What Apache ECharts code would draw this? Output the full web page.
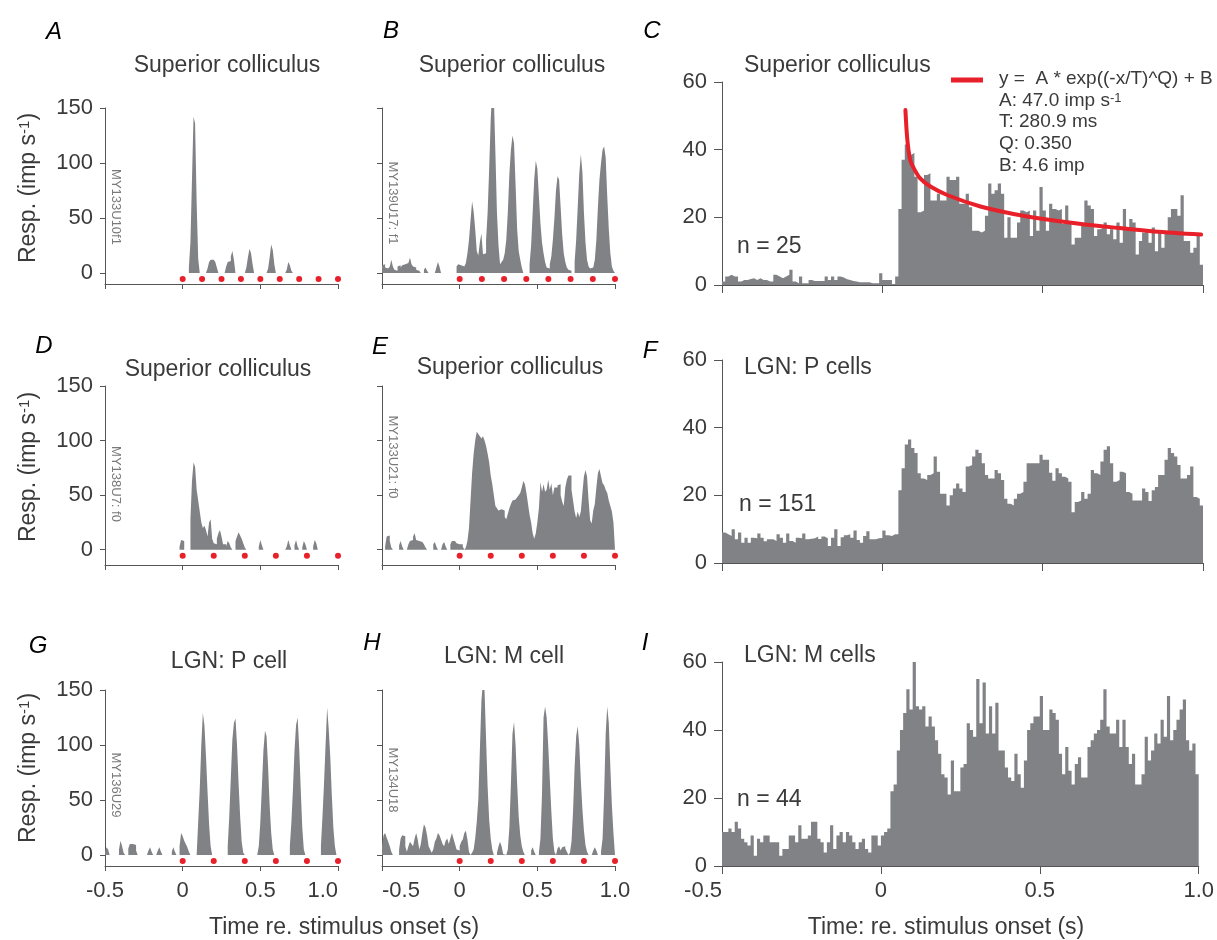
<!DOCTYPE html>
<html>
<head>
<meta charset="utf-8">
<title>PSTH panels</title>
<script src="https://cdn.jsdelivr.net/npm/echarts@6/dist/echarts.min.js"></script>
<style>
html, body { margin: 0; padding: 0; background: #fff; }
#main { width: 1217px; height: 940px; }
</style>
</head>
<body>
<div id="main"></div>
<script>
// 10 ms bins from -0.5 s to 1.0 s (150 bins), values in imp/s
var respA = [
  0,0,0,0,0,0,0,0,0,0, 0,0,0,0,0,0,0,0,0,0, 0,0,0,0,0,0,0,0,0,0,
  0,0,0,0,0,0,0,0,0,0, 0,0,0,0,0,0,0,0,0,0,
  0,0,0,0,5,28,85,142,136,64, 13,0,0,0,0,0,4,10,12,12,
  11,10,5,0,0,0,0,0,6,10, 11,15,20,12,0,0,0,0,0,0,
  0,5,14,22,18,8,0,0,0,0, 0,0,0,0,0,4,14,26,21,8,
  0,0,0,0,0,0,0,3,10,7, 2,0,0,0,0,0,0,0,0,0,
  0,0,0,0,0,0,0,0,0,0, 0,0,0,0,0,0,0,0,0,0
];
var respB = [
  7,8,5,4,5,6,12,6,3,2, 6,7,5,7,8,7,9,10,14,8, 6,5,3,2,1,0,0,3,5,2,
  0,0,0,0,0,5,10,6,0,0, 0,0,0,0,0,0,0,0,6,8,
  7,8,6,5,9,18,30,48,65,56, 40,20,16,28,36,17,18,30,55,95,
  140,168,160,110,55,25,8,10,12,18, 30,55,90,112,125,118,80,40,20,12,
  5,0,0,0,0,8,25,55,85,102, 95,70,45,28,18,10,5,4,8,15,
  30,50,75,88,85,60,35,18,10,5, 3,2,0,0,10,30,60,90,108,92,
  55,28,12,6,4,5,6,12,30,60, 85,100,112,115,105,70,40,18,6,2
];
var respC = [
  1,2.5,3,2.5,2.5,1,1.5,1.5,1.8,2, 1.5,2,1.5,1.5,1,1,3,2.5,2,2.5,
  3,4.5,1,0.5,2.5,0.5,0.5,1.5,1.2,1.2, 1.2,1.2,2.5,1.5,2.5,1.5,2.5,2.2,1.7,1.5,
  1.2,1,0.8,0.8,0.8,0.8,0.5,0.5,0.5,3.5, 1.5,1.5,1.5,0.3,2.5,22.5,37,41.5,38.5,39,
  32,21.5,22,32.5,33,25,25,27,25,25, 32,31,31,32,24,24,27,23,16,16,
  15.5,16,20.5,30,27,28,30,27,14,20, 14,14,18.5,22,21.5,22,14.5,22,16,29,
  22,16,24,22.5,22,22.5,18,23.5,18,12, 14,14,18,25,23.5,22.5,14.5,16.5,17,18.5,
  15,16.5,13.5,18.5,12.5,22.5,16.5,19.5,18.5,9, 13,15.5,16.5,12.5,17,10,16,11,16,20,
  22.5,22.5,20.5,26.5,13,13,9.5,11,15,6
];
var respD = [
  0,0,0,0,0,0,0,0,0,0, 0,0,0,0,0,0,0,0,0,0, 0,0,0,0,0,0,0,0,0,0,
  0,0,0,0,0,0,0,0,0,0, 0,0,0,0,0,0,0,0,3,9,
  8,0,0,0,0,28,63,80,76,55, 45,35,25,20,22,18,12,25,28,10,
  6,5,10,15,18,12,5,5,3,8, 6,2,0,0,8,12,16,13,10,6,
  2,0,0,0,0,0,0,0,0,3, 9,4,0,0,0,0,0,0,0,0,
  0,0,0,0,0,0,0,3,9,4, 0,0,4,9,3,0,0,2,8,5,
  0,0,0,0,3,9,6,0,0,0, 0,0,0,0,0,0,0,0,0,0
];
var respE = [
  0,0,3,12,13,8,2,0,0,0, 0,4,8,3,0,0,0,5,8,9, 12,15,9,8,7,7,6,5,2,0,
  0,0,0,5,7,3,0,0,0,5, 7,3,0,0,5,8,8,7,6,5,
  6,5,3,0,2,8,20,45,70,88, 100,108,106,104,102,104,100,95,88,80,
  68,60,50,40,38,36,37,37,36,30, 28,33,38,42,45,46,47,48,50,52,
  57,63,60,52,42,32,25,15,10,15, 25,38,62,53,60,53,55,64,55,61,
  50,57,57,59,60,50,44,40,57,64, 68,68,55,45,35,29,35,30,35,52,
  67,73,67,45,27,24,36,42,57,70, 74,67,61,59,55,52,45,40,35,25
];
var respF = [
  9,8.5,8,10,7,9,6,7.5,6,7.5, 7.3,8.7,7.5,6.4,7,7,6.5,8.5,7.5,6,
  8.7,6.5,6,7.5,7.3,8.7,7,7.2,7.3,7.8, 7.1,7.8,7.3,5,7.5,10,5,7.6,8.2,8.5,
  7.5,9.6,6.8,6,8,9.4,7,7,7.3,7.4, 9.6,8.2,8,8.5,8.5,21.5,28,35,36.5,34,
  32.5,26.5,25,24.5,26,26.5,31.5,27,20.5,20.5, 17,20,22,23.5,22,21,28.5,29,31.5,33.5,
  32.5,29.5,26,25,25,27.5,26.5,24.5,19,17.5, 17,19,20.5,21,24,29.5,29.5,29.5,29.5,32,
  30.5,30.5,26.7,24.3,28,26.5,25.5,25,24,15, 18,18.5,21,19,20.5,27.5,26.5,26,30,33.5,
  34.5,29.5,24,24.5,27,26.5,21,20.5,18.5,18.5, 18.5,22,21,18.3,21.5,22.5,26,26,30.5,34,
  32.5,31.5,29,25,25,26,28.5,19.5,19,17
];
var respG = [
  3,7,5,0,0,0,0,0,0,5, 13,8,2,0,0,6,10,10,10,9, 4,0,0,0,0,0,0,0,4,7,
  3,0,0,0,4,7,3,0,0,0, 0,0,0,3,7,3,0,0,8,20,
  17,13,10,7,3,0,0,0,0,0, 30,60,100,129,118,90,58,28,8,0,
  0,0,0,0,0,0,0,0,0,8, 35,70,105,120,124,100,65,35,12,2,
  0,0,0,0,0,0,0,0,0,8, 30,62,95,113,108,80,45,20,5,0,
  0,0,0,0,0,0,0,0,0,8, 30,60,95,118,125,98,60,25,5,0,
  0,0,0,0,0,0,0,0,0,8, 35,65,100,134,115,90,55,25,8,0
];
var respH = [
  8,18,20,16,12,8,3,0,0,0, 0,5,15,18,17,8,3,8,12,10, 8,15,20,14,5,10,20,28,25,18,
  8,5,2,5,12,15,20,18,14,10, 8,13,15,10,15,20,15,10,5,4,
  8,12,14,20,22,14,3,0,2,5, 15,30,50,95,140,158,150,105,62,32,
  15,5,0,0,2,8,12,8,1,0, 0,5,25,65,110,121,100,65,35,18,
  8,3,0,0,0,0,4,7,3,0, 0,2,15,55,125,135,125,100,70,40,
  15,3,0,6,8,4,7,8,6,3, 0,2,12,40,80,108,117,100,68,42,
  22,9,3,0,0,0,4,7,4,0, 0,3,15,55,110,135,120,80,45,20
];
var respI = [
  10,10,11,10,13,11,8,7,6,9, 3,8,7,9,9,7,7,7,3,5, 5,9,9,7,12,8,8,9,13,13,
  8,7,4,7,12,5,9,10,7,10, 9,7,5,7,8,5,4,9,9,6,
  9,10,11,22,24,34,40,45,52,46, 60,47,46,47,41,44,41,37,33,27,
  26,21,31,22,22,29,30,42,40,38, 55,42,54,39,47,39,48,34,34,29,
  26,25,33,27,23,31,40,42,44,44, 50,40,40,46,45,43,33,27,35,28,
  24,30,32,26,26,35,37,39,40,43, 52,41,39,39,43,35,43,35,30,33,
  24,24,27,38,31,34,39,36,43,38, 50,37,40,43,46,49,37,34,36,27
];

// stimulus times (red dots), s
var dotsA = [0, 0.125, 0.25, 0.375, 0.5, 0.625, 0.75, 0.875, 1.0];
var dotsB = [0, 0.143, 0.286, 0.429, 0.571, 0.714, 0.857, 1.0];
var dots5 = [0, 0.2, 0.4, 0.6, 0.8, 1.0];

// fitted curve in C
var fitT = [0.072, 0.078, 0.087, 0.098, 0.118, 0.150, 0.202, 0.306, 0.409, 0.497, 0.614, 0.731, 0.848, 0.994];
var fitY = [51.7, 42.9, 36.9, 34.5, 31.5, 29.1, 26.6, 23.2, 21.0, 19.6, 18.1, 16.9, 15.8, 14.9];

var binStart = -0.5, binSize = 0.01;
var yTicksCell = [0, 50, 100, 150];

var FONT = "'Liberation Sans', Arial, Helvetica, sans-serif";
var BAR = '#808285';
var RED = '#e8202a';
var AXIS = '#555';
var TXT = '#3a3a3a';

// histogram as a stepped outline: each bin holds its value up to the next edge
function steps(vals) {
    var pts = vals.map(function (v, i) {
        return [Math.round((binStart + i * binSize) * 1000) / 1000, v];
    });
    pts.push([Math.round((binStart + vals.length * binSize) * 1000) / 1000, vals[vals.length - 1]]);
    return pts;
}

// panel layout: left, top, width, height
var panels = [
    {data: respA, box: [105, 108, 233, 176], ymin: -10, col: 1, row: 0, dots: dotsA},
    {data: respB, box: [382, 108, 233, 176], ymin: -10, col: 2, row: 0, dots: dotsB},
    {data: respC, box: [722, 82, 481, 203], ymin: 0, col: 3, row: 0},
    {data: respD, box: [105, 386, 233, 179], ymin: -14, col: 1, row: 1, dots: dots5},
    {data: respE, box: [382, 386, 233, 179], ymin: -14, col: 2, row: 1, dots: dots5},
    {data: respF, box: [722, 360, 481, 203], ymin: 0, col: 3, row: 1},
    {data: respG, box: [105, 690, 233, 176], ymin: -10, col: 1, row: 2, dots: dots5},
    {data: respH, box: [382, 690, 233, 176], ymin: -10, col: 2, row: 2, dots: dots5},
    {data: respI, box: [722, 662, 481, 204], ymin: 0, col: 3, row: 2}
];

var grids = [], xAxes = [], yAxes = [], series = [];

panels.forEach(function (p, k) {
    var wide = p.col === 3;
    grids.push({left: p.box[0], top: p.box[1], width: p.box[2], height: p.box[3], containLabel: false});

    var xl = {
        show: p.row === 2, fontSize: 22, color: TXT, fontFamily: FONT, margin: 14,
        formatter: function (v) { return v === 1 ? '1.0' : String(v); }
    };
    if (k === 6) xl.alignMaxLabel = 'right';
    if (k === 7) xl.alignMinLabel = 'left';
    if (k === 8) xl.alignMinLabel = 'right';
    xAxes.push({
        type: 'value', gridIndex: k, min: -0.5, max: 1.0, interval: 0.5, position: 'bottom',
        axisLine: {show: true, onZero: false, lineStyle: {color: AXIS, width: 1}},
        axisTick: {show: true, inside: false, length: wide ? 8 : 5, lineStyle: {color: AXIS}},
        axisLabel: xl,
        splitLine: {show: false}
    });

    if (wide) {
        yAxes.push({
            type: 'value', gridIndex: k, min: 0, max: 60, interval: 20,
            axisLine: {show: true, onZero: false, lineStyle: {color: AXIS, width: 1}},
            axisTick: {show: true, length: 8, lineStyle: {color: AXIS}},
            axisLabel: {fontSize: 22, color: TXT, fontFamily: FONT, margin: 15},
            splitLine: {show: false}
        });
    } else {
        yAxes.push({
            type: 'value', gridIndex: k, min: p.ymin, max: 150,
            axisLine: {show: true, onZero: false, lineStyle: {color: AXIS, width: 1}},
            axisTick: {show: true, length: 5, customValues: yTicksCell, lineStyle: {color: AXIS}},
            axisLabel: {show: p.col === 1, customValues: yTicksCell, fontSize: 22, color: TXT, fontFamily: FONT, margin: 12},
            splitLine: {show: false}
        });
    }

    series.push({
        type: 'line', xAxisIndex: k, yAxisIndex: k, data: steps(p.data),
        step: 'end', symbol: 'none', showSymbol: false,
        lineStyle: {width: 0, opacity: 0},
        areaStyle: {color: BAR, opacity: 1, origin: 0},
        silent: true, z: 2
    });

    if (p.dots) {
        series.push({
            type: 'scatter', xAxisIndex: k, yAxisIndex: k,
            data: p.dots.map(function (t) { return [t, -5.5]; }),
            symbolSize: 6, itemStyle: {color: RED, opacity: 1}, silent: true, z: 3
        });
    }
});

// fit in panel C
series.push({
    type: 'line', xAxisIndex: 2, yAxisIndex: 2,
    data: fitT.map(function (t, i) { return [t, fitY[i]]; }),
    smooth: 0.3, showSymbol: false, symbol: 'none',
    lineStyle: {color: RED, width: 4, cap: 'round', join: 'round'}, silent: true, z: 5
});

function txt(x, y, s, size, opts) {
    opts = opts || {};
    return {
        type: 'text', x: x, y: y, rotation: opts.rot || 0, z: 10,
        style: {
            text: s, fontSize: size, fontFamily: FONT, fill: opts.fill || TXT,
            fontStyle: opts.italic ? 'italic' : 'normal',
            align: opts.align || 'center', verticalAlign: 'middle',
            rich: opts.rich
        }
    };
}

var supRich = {sup: {fontSize: 13, verticalAlign: 'top', fontFamily: FONT, fill: TXT}};
var respRich = {sup: {fontSize: 15, verticalAlign: 'top', fontFamily: FONT, fill: TXT}};

var graphics = [
    // panel letters
    txt(54, 32, 'A', 24, {italic: true, fill: '#000'}),
    txt(391, 31, 'B', 24, {italic: true, fill: '#000'}),
    txt(652, 31, 'C', 24, {italic: true, fill: '#000'}),
    txt(44, 346, 'D', 24, {italic: true, fill: '#000'}),
    txt(380, 347, 'E', 24, {italic: true, fill: '#000'}),
    txt(650, 351, 'F', 24, {italic: true, fill: '#000'}),
    txt(38, 646, 'G', 24, {italic: true, fill: '#000'}),
    txt(372, 643, 'H', 24, {italic: true, fill: '#000'}),
    txt(645, 643, 'I', 24, {italic: true, fill: '#000'}),

    // titles
    txt(227, 66, 'Superior colliculus', 23),
    txt(512, 66, 'Superior colliculus', 23),
    txt(744, 66, 'Superior colliculus', 23, {align: 'left'}),
    txt(218, 370, 'Superior colliculus', 23),
    txt(510, 368, 'Superior colliculus', 23),
    txt(744, 368, 'LGN: P cells', 23, {align: 'left'}),
    txt(229, 662, 'LGN: P cell', 23),
    txt(504, 657, 'LGN: M cell', 23),
    txt(744, 656, 'LGN: M cells', 23, {align: 'left'}),

    // y axis names
    txt(29, 188, 'Resp. (imp s{sup|-1})', 23, {rot: Math.PI / 2, rich: respRich}),
    txt(29, 467, 'Resp. (imp s{sup|-1})', 23, {rot: Math.PI / 2, rich: respRich}),
    txt(29, 768, 'Resp. (imp s{sup|-1})', 23, {rot: Math.PI / 2, rich: respRich}),

    // cell ids
    txt(116, 207, 'MY133U10f1', 13, {rot: -Math.PI / 2, fill: '#7a7a7a'}),
    txt(393, 203, 'MY139U17: f1', 13, {rot: -Math.PI / 2, fill: '#7a7a7a'}),
    txt(116, 484, 'MY138U7: f0', 13, {rot: -Math.PI / 2, fill: '#7a7a7a'}),
    txt(393, 457, 'MY133U21: f0', 13, {rot: -Math.PI / 2, fill: '#7a7a7a'}),
    txt(116, 785, 'MY136U29', 13, {rot: -Math.PI / 2, fill: '#7a7a7a'}),
    txt(393, 780, 'MY134U18', 13, {rot: -Math.PI / 2, fill: '#7a7a7a'}),

    // counts
    txt(737, 247, 'n = 25', 23, {align: 'left'}),
    txt(739, 505, 'n = 151', 23, {align: 'left'}),
    txt(737, 800, 'n = 44', 23, {align: 'left'}),

    // fit legend
    {type: 'line', z: 10, shape: {x1: 951, y1: 80, x2: 983, y2: 80}, style: {stroke: RED, lineWidth: 5}},
    txt(999, 79, 'y =  A * exp((-x/T)^Q) + B', 19, {align: 'left'}),
    txt(999, 101, 'A: 47.0 imp s{sup|-1}', 19, {align: 'left', rich: supRich}),
    txt(999, 122, 'T: 280.9 ms', 19, {align: 'left'}),
    txt(999, 144, 'Q: 0.350', 19, {align: 'left'}),
    txt(999, 166, 'B: 4.6 imp', 19, {align: 'left'}),

    // x axis names
    txt(344, 928, 'Time re. stimulus onset (s)', 23),
    txt(946, 928, 'Time: re. stimulus onset (s)', 23)
];

var chart = echarts.init(document.getElementById('main'), null, {renderer: 'canvas'});
chart.setOption({
    backgroundColor: '#ffffff',
    animation: false,
    textStyle: {fontFamily: FONT},
    grid: grids,
    xAxis: xAxes,
    yAxis: yAxes,
    series: series,
    graphic: graphics
});
</script>
</body>
</html>
